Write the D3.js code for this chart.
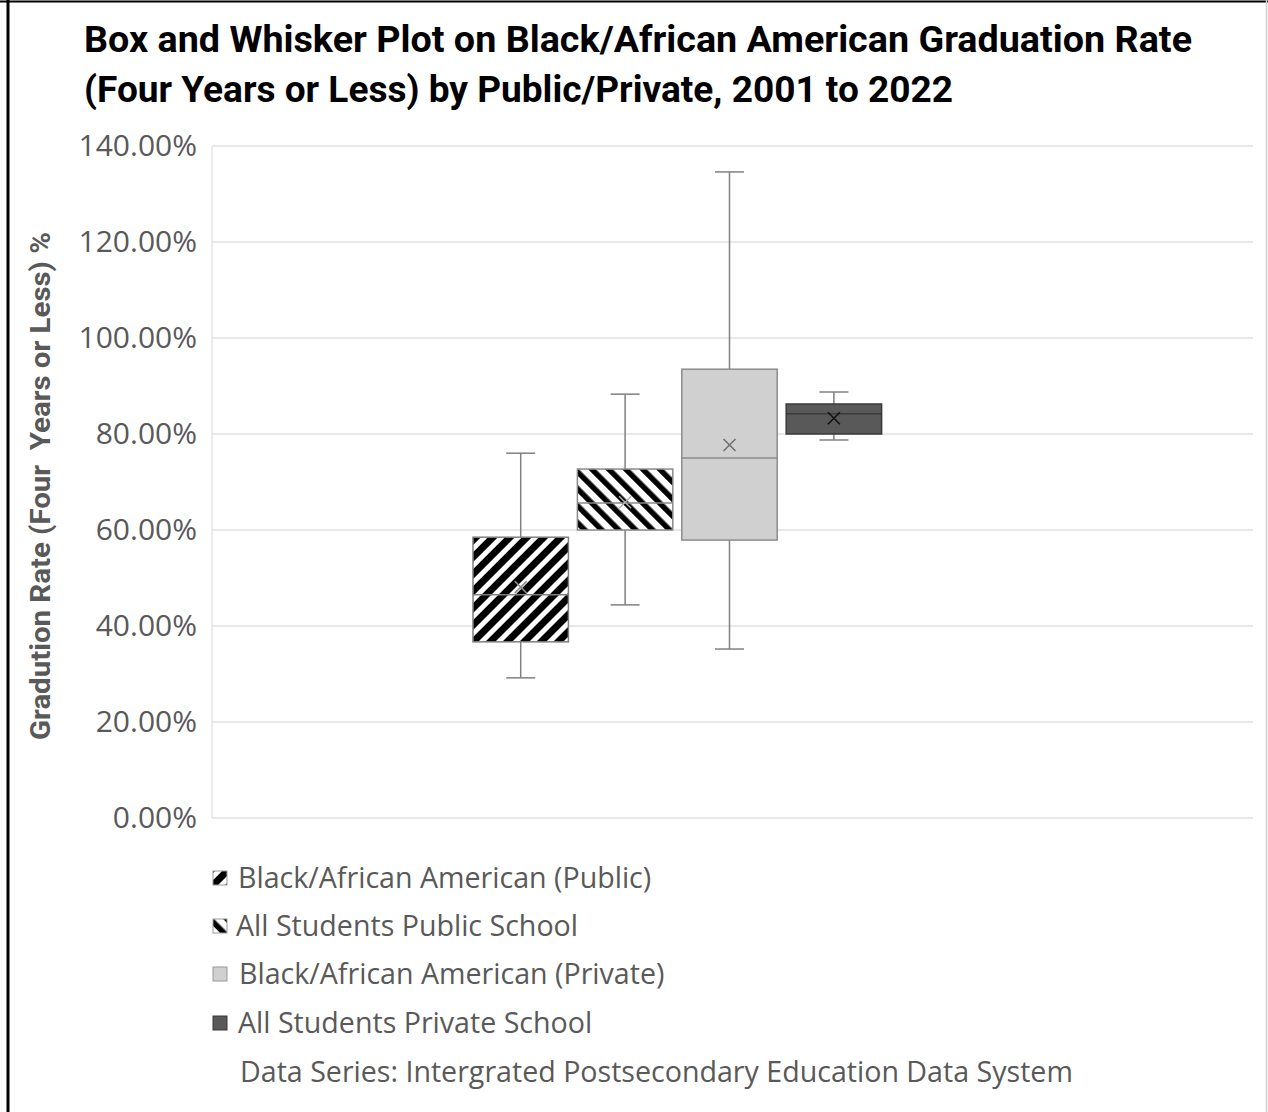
<!DOCTYPE html>
<html>
<head>
    <meta charset="utf-8">
    <title>Box and Whisker Plot</title>
    <script src="https://d3js.org/d3.v7.min.js"></script>
    <style>
        body { margin: 0; background: #fff; }
        svg { display: block; }
    </style>
</head>
<body>
    <svg id="chart" width="1268" height="1112"></svg>
    <script>
        // series (one category, Excel-style box plot)
        const seriesNames = [
            "Black/African American (Public)",
            "All Students Public School",
            "Black/African American (Private)",
            "All Students Private School",
            "Data Series: Intergrated Postsecondary Education Data System"
        ];
        // five-number summaries (fractions)
        const whiskerLow = [0.292, 0.444, 0.352, 0.7875, null];
        const q1Values   = [0.367, 0.600, 0.579, 0.800, null];
        const medians    = [0.465, 0.656, 0.750, 0.842, null];
        const q3Values   = [0.585, 0.727, 0.935, 0.8625, null];
        const whiskerHigh = [0.760, 0.883, 1.346, 0.8875, null];
        const means      = [0.481, 0.658, 0.777, 0.833, null];

        const yTicks = [0, 0.2, 0.4, 0.6, 0.8, 1.0, 1.2, 1.4];

        const svg = d3.select("#chart");
        const W = 1268, H = 1112;
        svg.append("rect").attr("width", W).attr("height", H).attr("fill", "#fff");

        // frame round the picture
        svg.append("line").attr("x1", 8).attr("x2", 8).attr("y1", 0).attr("y2", H)
            .attr("stroke", "#000").attr("stroke-width", 3);
        svg.append("line").attr("x1", 0).attr("x2", W).attr("y1", 1.5).attr("y2", 1.5)
            .attr("stroke", "#000").attr("stroke-width", 2);
        svg.append("line").attr("x1", 1266.5).attr("x2", 1266.5).attr("y1", 0).attr("y2", H)
            .attr("stroke", "#d0d0d0").attr("stroke-width", 1.5);

        const defs = svg.append("defs");
        // black with white "/" stripes
        const p1 = defs.append("pattern").attr("id", "stripeA").attr("patternUnits", "userSpaceOnUse")
            .attr("width", 12).attr("height", 12).attr("patternTransform", "rotate(45)");
        p1.append("rect").attr("width", 12).attr("height", 12).attr("fill", "#000");
        p1.append("rect").attr("width", 5).attr("height", 12).attr("fill", "#fff");
        // white with black "\" stripes
        const p2 = defs.append("pattern").attr("id", "stripeB").attr("patternUnits", "userSpaceOnUse")
            .attr("width", 12).attr("height", 12).attr("patternTransform", "rotate(-45)");
        p2.append("rect").attr("width", 12).attr("height", 12).attr("fill", "#fff");
        p2.append("rect").attr("width", 5.5).attr("height", 12).attr("fill", "#000");

        const fills = ["url(#stripeA)", "url(#stripeB)", "#d0d0d0", "#595959", "none"];
        const boxStroke = ["#7f7f7f", "#8a8a8a", "#8c8c8c", "#3a3a3a", "none"];
        const meanStroke = ["#8a8a8a", "#b0b0b0", "#6e6e6e", "#111", "none"];

        const plot = { left: 212, right: 1253, top: 146, bottom: 818 };

        const y = d3.scaleLinear().domain([0, 1.4]).range([plot.bottom, plot.top]);
        const x = d3.scaleBand().domain(seriesNames).range([plot.left, plot.right - 6])
            .paddingInner(0.086).paddingOuter(2.5);

        const narrow = "Roboto, 'DejaVu Sans', sans-serif";

        // title (condensed by textLength, no narrow face installed)
        const titleLines = [
            ["Box and Whisker Plot on Black/African American Graduation Rate", 52, 1108],
            ["(Four Years or Less) by Public/Private, 2001 to 2022", 102, 869]
        ];
        svg.append("g").selectAll("text").data(titleLines).join("text")
            .attr("x", 84).attr("y", d => d[1])
            .attr("textLength", d => d[2]).attr("lengthAdjust", "spacingAndGlyphs")
            .attr("font-family", narrow).attr("font-weight", "bold")
            .attr("font-size", 37).attr("fill", "#000")
            .text(d => d[0]);

        // gridlines
        svg.append("g").selectAll("line").data(yTicks).join("line")
            .attr("x1", plot.left).attr("x2", plot.right)
            .attr("y1", d => y(d)).attr("y2", d => y(d))
            .attr("stroke", "#e0e0e0").attr("stroke-width", 1.5);
        svg.append("line").attr("x1", plot.left).attr("x2", plot.left)
            .attr("y1", plot.top).attr("y2", plot.bottom)
            .attr("stroke", "#e4e4e4").attr("stroke-width", 1.5);

        // y axis labels
        const yAxis = d3.axisLeft(y).tickValues(yTicks).tickSize(0).tickPadding(15)
            .tickFormat(d3.format(".2%"));
        const ga = svg.append("g").attr("transform", `translate(${plot.left},0)`).call(yAxis);
        ga.select(".domain").remove();
        ga.selectAll("text").attr("font-family", "'Open Sans', sans-serif")
            .attr("font-size", 30).attr("fill", "#595959");

        svg.append("text")
            .attr("transform", `translate(50,${(plot.top + plot.bottom) / 2 + 4}) rotate(-90)`)
            .attr("text-anchor", "middle")
            .attr("textLength", 508).attr("lengthAdjust", "spacingAndGlyphs")
            .attr("font-family", narrow)
            .attr("font-weight", "bold").attr("font-size", 27).attr("fill", "#595959")
            .attr("xml:space", "preserve")
            .text("Gradution Rate (Four  Years or Less) %");

        // boxes
        const data = seriesNames.map((s, i) => ({
            name: s, i, lo: whiskerLow[i], q1: q1Values[i], med: medians[i],
            q3: q3Values[i], hi: whiskerHigh[i], mean: means[i]
        })).filter(d => d.lo !== null);

        const capW = 29;
        const g = svg.append("g").selectAll("g").data(data).join("g");
        g.each(function (d) {
            const sel = d3.select(this);
            const x0 = x(d.name), bw = x.bandwidth(), cx = x0 + bw / 2;
            const wStroke = "#808080";
            // whiskers
            sel.append("line").attr("x1", cx).attr("x2", cx).attr("y1", y(d.hi)).attr("y2", y(d.q3))
                .attr("stroke", wStroke).attr("stroke-width", 1.5);
            sel.append("line").attr("x1", cx).attr("x2", cx).attr("y1", y(d.q1)).attr("y2", y(d.lo))
                .attr("stroke", wStroke).attr("stroke-width", 1.5);
            [d.hi, d.lo].forEach(v => sel.append("line")
                .attr("x1", cx - capW / 2).attr("x2", cx + capW / 2).attr("y1", y(v)).attr("y2", y(v))
                .attr("stroke", wStroke).attr("stroke-width", 1.5));
            // box
            sel.append("rect").attr("x", x0).attr("width", bw)
                .attr("y", y(d.q3)).attr("height", y(d.q1) - y(d.q3))
                .attr("fill", fills[d.i]).attr("stroke", boxStroke[d.i]).attr("stroke-width", 1.5);
            // median
            sel.append("line").attr("x1", x0).attr("x2", x0 + bw).attr("y1", y(d.med)).attr("y2", y(d.med))
                .attr("stroke", boxStroke[d.i]).attr("stroke-width", 1.5);
            // mean marker
            const my = y(d.mean), s = 6;
            sel.append("path")
                .attr("d", `M${cx - s},${my - s}L${cx + s},${my + s}M${cx - s},${my + s}L${cx + s},${my - s}`)
                .attr("stroke", meanStroke[d.i]).attr("stroke-width", 1.5).attr("fill", "none");
        });

        // legend
        const legY = [878, 926, 974, 1023, 1072];
        const legX = [238, 236, 239, 238, 240];
        const leg = svg.append("g").selectAll("g").data(seriesNames).join("g");
        leg.each(function (name, i) {
            const sel = d3.select(this);
            if (i < 4) {
                sel.append("rect").attr("x", 213).attr("y", legY[i] - 7).attr("width", 14).attr("height", 14)
                    .attr("fill", fills[i]).attr("stroke", i === 3 ? "#3a3a3a" : "#9a9a9a").attr("stroke-width", 1);
            }
            sel.append("text").attr("x", legX[i]).attr("y", legY[i]).attr("dy", "0.35em")
                .attr("font-family", "'Open Sans', sans-serif").attr("font-size", 28.6)
                .attr("fill", "#595959").text(name);
        });
    </script>
</body>
</html>
